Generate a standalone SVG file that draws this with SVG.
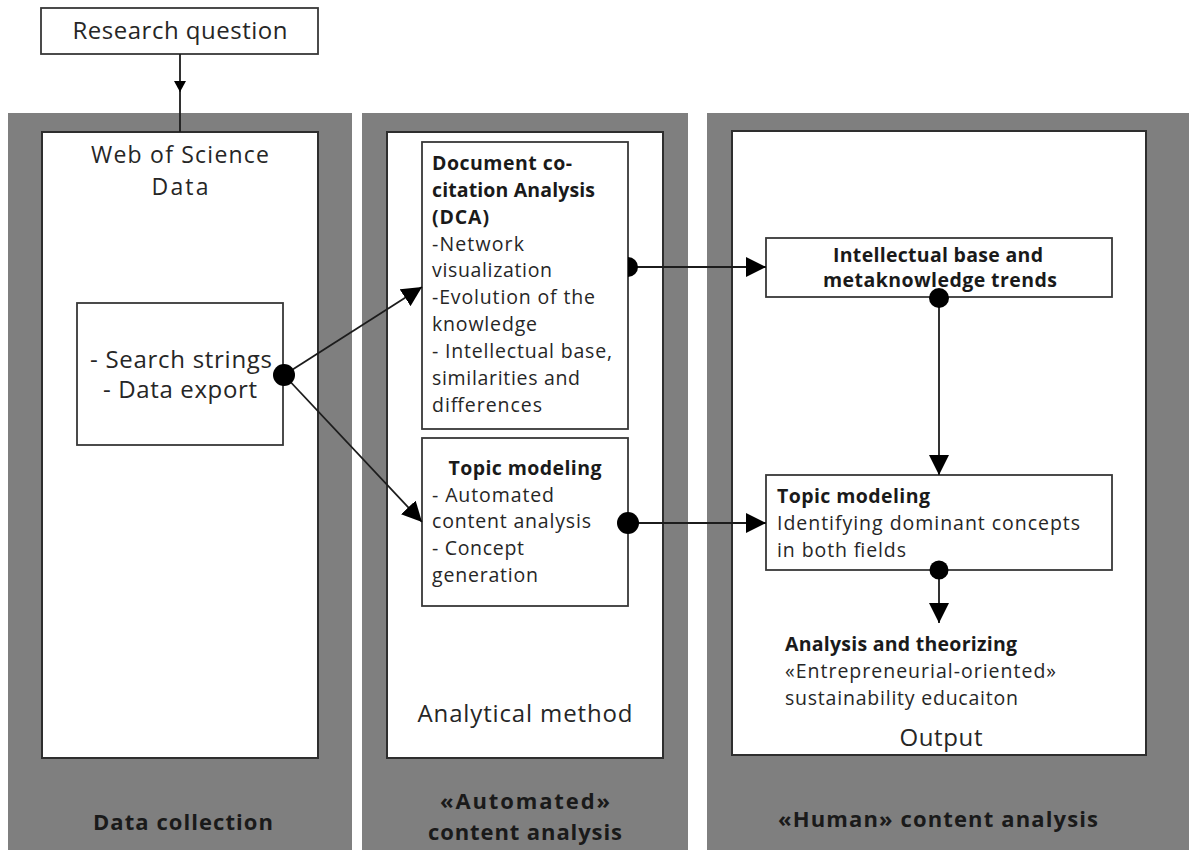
<svg xmlns="http://www.w3.org/2000/svg" width="1189" height="852" viewBox="0 0 1189 852">
  <defs>
    <style>
      .panel{fill:#7f7f7f}
      .inner{fill:#fff;stroke:#2e2e2e;stroke-width:2}
      .box{fill:#fff;stroke:#383838;stroke-width:1.8}
      .t{font-family:"Open Sans","Liberation Sans",sans-serif;fill:#262626}
      .b{font-weight:bold;fill:#1a1a1a}
      .s18{font-size:19.5px}
      .s22{font-size:24px}
      .s21{font-size:22px}
      .s20{font-size:23px}
      .conn line{stroke:#1c1c1c;stroke-width:1.8;fill:none}
      .dot{fill:#000}
    </style>
    <marker id="head" markerUnits="userSpaceOnUse" markerWidth="20" markerHeight="20" viewBox="0 0 20 20" refX="20" refY="10" orient="auto">
      <path d="M0,0 L20,10 L0,20 Z" fill="#000"/>
    </marker>
    <marker id="headSmall" markerUnits="userSpaceOnUse" markerWidth="12" markerHeight="12" viewBox="0 0 12 12" refX="11" refY="6" orient="auto">
      <path d="M0,0 L11,6 L0,12 Z" fill="#000"/>
    </marker>
  </defs>

  <rect width="1189" height="852" fill="#fff"/>

  <!-- Phase columns -->
  <g id="col-data-collection">
    <rect class="panel" x="8" y="113" width="344" height="737"/>
    <rect class="inner" x="42" y="132" width="276" height="626"/>
    <text class="t s20" x="180" y="163" text-anchor="middle" textLength="178">Web of Science</text>
    <text class="t s20" x="180" y="195" text-anchor="middle" textLength="57">Data</text>
    <text class="t b s21" x="183" y="830" text-anchor="middle" textLength="180">Data collection</text>
  </g>

  <g id="col-automated">
    <rect class="panel" x="362" y="113" width="326" height="737"/>
    <rect class="inner" x="387" y="132" width="276" height="626"/>
    <text class="t s22" x="525" y="722" text-anchor="middle" textLength="215">Analytical method</text>
    <text class="t b s21" x="525" y="809" text-anchor="middle" textLength="170">«Automated»</text>
    <text class="t b s21" x="525" y="840" text-anchor="middle" textLength="194">content analysis</text>
  </g>

  <g id="col-human">
    <rect class="panel" x="707" y="113" width="482" height="737"/>
    <rect class="inner" x="732" y="131" width="414" height="624"/>
    <text class="t s22" x="941" y="746" text-anchor="middle" textLength="83">Output</text>
    <text class="t b s21" x="938" y="827" text-anchor="middle" textLength="320">«Human» content analysis</text>
  </g>

  <!-- Process steps -->
  <g id="research-question">
    <rect class="box" x="41" y="8" width="277" height="46"/>
    <text class="t s22" x="180" y="39" text-anchor="middle" textLength="215">Research question</text>
  </g>

  <g id="search-strings">
    <rect class="box" x="77" y="303" width="206" height="142"/>
    <text class="t s22" x="181" y="368" text-anchor="middle" textLength="182">- Search strings</text>
    <text class="t s22" x="180" y="398" text-anchor="middle" textLength="154">- Data export</text>
  </g>

  <g id="dca">
    <rect class="box" x="422" y="142" width="206" height="287"/>
    <text class="t b s18" x="432" y="170" textLength="140">Document co-</text>
    <text class="t b s18" x="432" y="197" textLength="163">citation Analysis</text>
    <text class="t b s18" x="432" y="224" textLength="57">(DCA)</text>
    <text class="t s18" x="432" y="251" textLength="92">-Network</text>
    <text class="t s18" x="432" y="277" textLength="120">visualization</text>
    <text class="t s18" x="432" y="304" textLength="163">-Evolution of the</text>
    <text class="t s18" x="432" y="331" textLength="105">knowledge</text>
    <text class="t s18" x="432" y="358" textLength="180">- Intellectual base,</text>
    <text class="t s18" x="432" y="385" textLength="148">similarities and</text>
    <text class="t s18" x="432" y="412" textLength="110">differences</text>
  </g>

  <g id="topic-modeling-auto">
    <rect class="box" x="422" y="438" width="206" height="168"/>
    <text class="t b s18" x="525" y="475" text-anchor="middle" textLength="153">Topic modeling</text>
    <text class="t s18" x="432" y="502" textLength="122">- Automated</text>
    <text class="t s18" x="432" y="528" textLength="159">content analysis</text>
    <text class="t s18" x="432" y="555" textLength="92">- Concept</text>
    <text class="t s18" x="432" y="582" textLength="106">generation</text>
  </g>

  <g id="intellectual-base">
    <rect class="box" x="766" y="238" width="346" height="59"/>
    <text class="t b s18" x="938" y="262" text-anchor="middle" textLength="210">Intellectual base and</text>
    <text class="t b s18" x="940" y="287" text-anchor="middle" textLength="234">metaknowledge trends</text>
  </g>

  <g id="topic-modeling-human">
    <rect class="box" x="766" y="475" width="346" height="95"/>
    <text class="t b s18" x="777" y="503" textLength="153">Topic modeling</text>
    <text class="t s18" x="777" y="530" textLength="303">Identifying dominant concepts</text>
    <text class="t s18" x="777" y="557" textLength="129">in both fields</text>
  </g>

  <g id="analysis-theorizing">
    <text class="t b s18" x="785" y="651" textLength="232">Analysis and theorizing</text>
    <text class="t s18" x="785" y="678" textLength="271">«Entrepreneurial-oriented»</text>
    <text class="t s18" x="785" y="705" textLength="233">sustainability educaiton</text>
  </g>

  <!-- Connectors -->
  <g id="connectors" class="conn">
    <line x1="180" y1="54" x2="180" y2="92" marker-end="url(#headSmall)"/>
    <line x1="180" y1="91" x2="180" y2="132"/>
    <line x1="284" y1="375" x2="422" y2="287" marker-end="url(#head)"/>
    <line x1="284" y1="375" x2="422" y2="522" marker-end="url(#head)"/>
    <line x1="628" y1="267" x2="766" y2="267" marker-end="url(#head)"/>
    <line x1="628" y1="523" x2="766" y2="523" marker-end="url(#head)"/>
    <line x1="939" y1="298" x2="939" y2="475" marker-end="url(#head)"/>
    <line x1="939" y1="570" x2="939" y2="623" marker-end="url(#head)"/>
    <circle class="dot" cx="284" cy="375" r="11"/>
    <path class="dot" d="M628,257 A10,10 0 0 1 628,277 Z"/>
    <circle class="dot" cx="628" cy="523" r="11"/>
    <circle class="dot" cx="939" cy="298" r="10"/>
    <circle class="dot" cx="939" cy="570" r="9.5"/>
  </g>
</svg>
